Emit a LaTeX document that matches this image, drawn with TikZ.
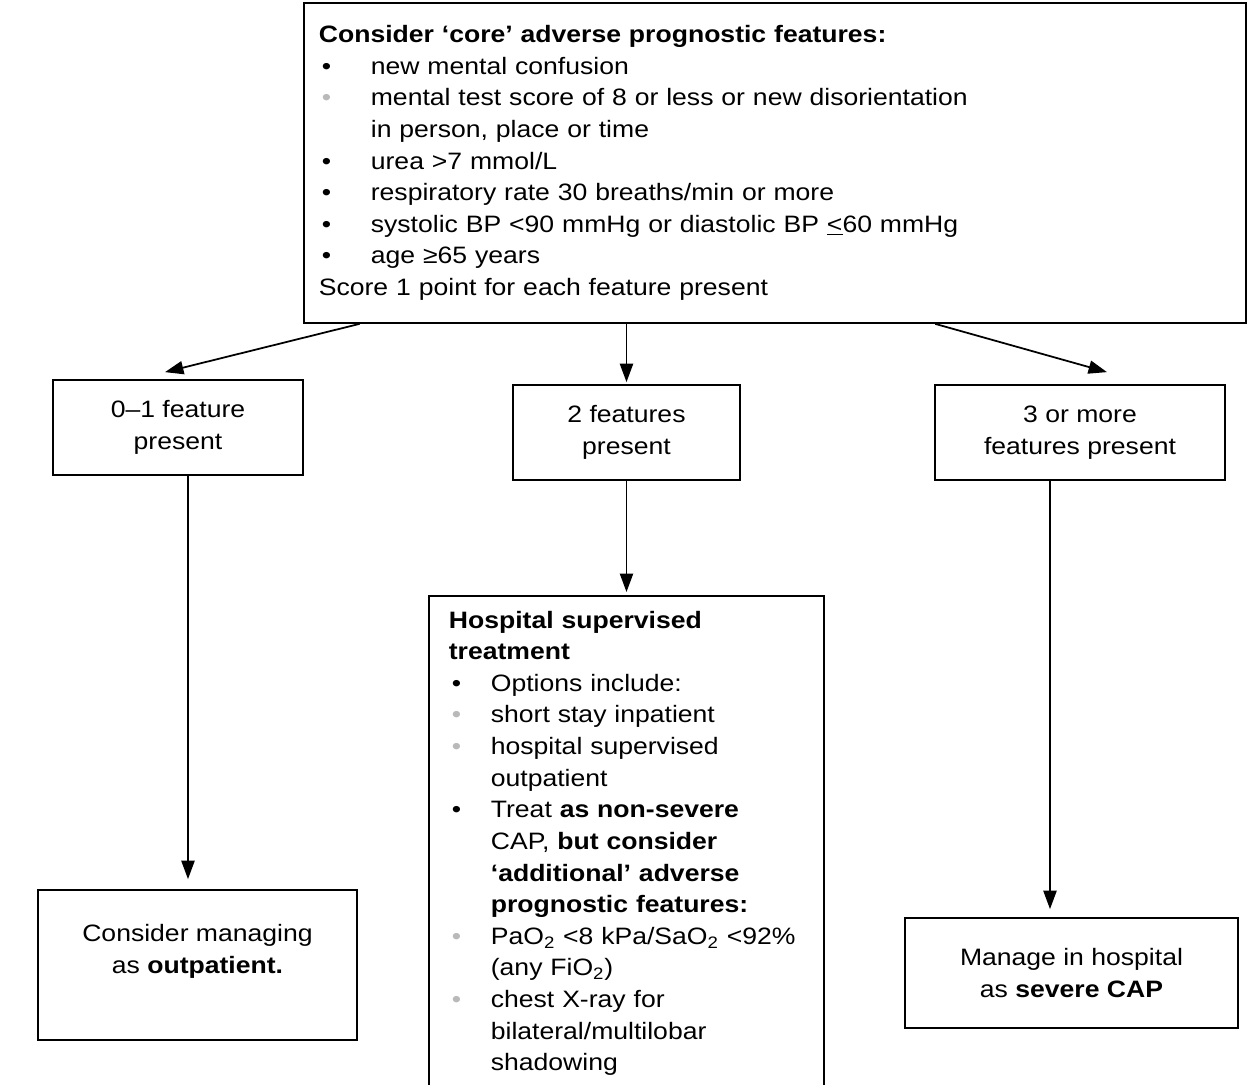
\documentclass[tikz,border=0pt]{standalone}
\usepackage{fontspec}
\setmainfont[FakeStretch=1.12]{Liberation Sans}
\usetikzlibrary{arrows.meta,positioning,calc}
\definecolor{bulletGray}{RGB}{185,185,185}
\setlength{\parindent}{0pt}
\newlength{\bind}
\newcommand{\bitem}[2][black]{\par\noindent\hangindent=\bind\hangafter=1%
  \makebox[\bind][l]{\hspace{0.06cm}\textcolor{#1}{\textbullet}}#2}

\begin{document}
\begin{tikzpicture}[
  x=0.02cm, y=-0.02cm,
  box/.style={rectangle, draw=black, line width=1pt,
              font={\fontsize{13.5}{18}\selectfont}},
  listbox/.style={box, anchor=north west, align=left},
  smallbox/.style={box, align=center, minimum height=1.9cm},
  arr/.style={-{Triangle[length=10.5pt,width=7.5pt]}, line width=1pt}
]
  \clip (0,0) rectangle (1258,1085);

  \node[listbox, text width=18.24cm, inner xsep=0.3cm, inner ysep=0.45cm]
    (core) at (303,2) {%
    \setlength{\bind}{1.04cm}%
    \textbf{Consider ‘core’ adverse prognostic features:}
    \bitem{new mental confusion}
    \bitem[bulletGray]{mental test score of 8 or less or new disorientation\newline in person, place or time}
    \bitem{urea >7 mmol/L}
    \bitem{respiratory rate 30 breaths/min or more}
    \bitem{systolic BP <90 mmHg or diastolic BP \underline{<}60 mmHg}
    \bitem{age ≥65 years}
    \par Score 1 point for each feature present};

  % the three scores
  \node[smallbox, minimum width=5cm]    (zero)  at (178,427.5)  {0–1 feature\\present};
  \node[smallbox, minimum width=4.54cm] (two)   at (626.5,432.5) {2 features\\present};
  \node[smallbox, minimum width=5.8cm]  (three) at (1080,432.5) {3 or more\\features present};

  % outcomes
  \node[box, align=center, minimum width=6.38cm, minimum height=3cm]
    (outp) at (197.5,965) {Consider managing\\as \textbf{outpatient.}\\\mbox{}};
  \node[listbox, text width=7.1cm, inner xsep=0.4cm, inner ysep=0.3cm]
    (hosp) at (428,595) {%
    \setlength{\bind}{0.84cm}%
    \textbf{Hospital supervised\\treatment}
    \bitem{Options include:}
    \bitem[bulletGray]{short stay inpatient}
    \bitem[bulletGray]{hospital supervised\newline outpatient}
    \bitem{Treat \textbf{as non-severe}\newline CAP, \textbf{but consider}\newline \textbf{‘additional’ adverse}\newline \textbf{prognostic features:}}
    \bitem[bulletGray]{PaO\textsubscript{2} <8 kPa/SaO\textsubscript{2} <92\%\newline (any FiO\textsubscript{2})}
    \bitem[bulletGray]{chest X-ray for\newline bilateral/multilobar\newline shadowing}
    \par\vspace*{1cm}};
  \node[box, align=center, minimum width=6.66cm, minimum height=2.2cm]
    (sev) at (1071.5,973) {Manage in hospital\\as \textbf{severe CAP}};

  \draw[arr] ($(core.south west)!0.06!(core.south east)$) -- ($(zero.north)+(-13,-7)$);
  \draw[arr, shorten >=0.04cm] (core.south -| two.north) -- (two.north);
  \draw[arr] ($(core.south west)!0.67!(core.south east)$) -- ($(three.north)+(27,-12)$);

  \draw[arr, shorten >=0.2cm] ($(zero.south)+(10,0)$) -- ($(zero.south |- outp.north)+(10,0)$);
  \draw[arr, shorten >=0.06cm] (two.south) -- (two.south |- hosp.north);
  \draw[arr, shorten >=0.16cm] ($(three.south)+(-30,0)$) -- ($(three.south |- sev.north)+(-30,0)$);
\end{tikzpicture}
\end{document}
